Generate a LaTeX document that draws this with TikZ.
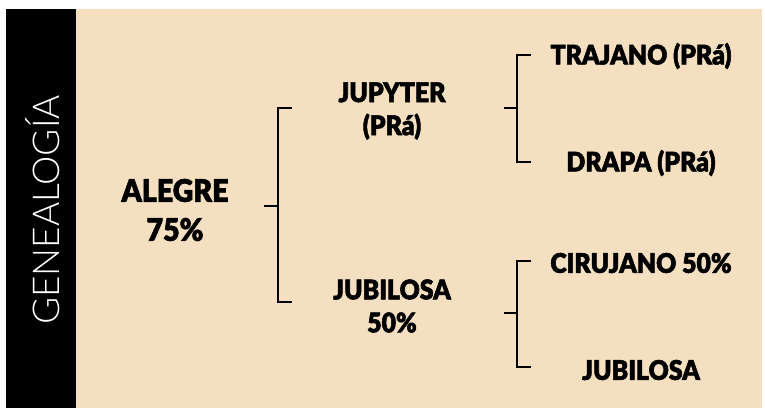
\documentclass[tikz,border=0pt]{standalone}
\usepackage{fontspec}
\setmainfont{Lato}[UprightFont=* Black, BoldFont=* Black, FakeBold=2, FakeStretch=0.92]
\newfontfamily\lightfont{Lato}[UprightFont=* Light]
\definecolor{beige}{RGB}{245,223,193}
\begin{document}
\begin{tikzpicture}[x=1pt,y=-1pt,
  lbl/.style={font=\fontsize{27}{33}\selectfont, text=black, align=center, inner sep=0pt},
  big/.style={font=\fontsize{31}{39}\selectfont, text=black, align=center, inner sep=0pt},
  brk/.style={line width=2pt, draw=black}]
\useasboundingbox (0,0) rectangle (765,408);
\fill[white] (0,0) rectangle (765,408);
\fill[black] (6,9) rectangle (76,408);
\fill[beige] (76,9) rectangle (762,408);
\node[rotate=90, text=white, inner sep=0pt, font=\lightfont\fontsize{37}{37}\selectfont] (title) at (43,210) {GENEALOGÍA};
% texts
\node[big] (alegre) at (175,210) {ALEGRE\\75\%};
\node[lbl] (jupyter) at (392,111) {JUPYTER\\(PRá)};
\node[lbl] (jubilosa1) at (392,306) {JUBILOSA\\50\%};
\node[lbl] (trajano) at (641,56) {TRAJANO (PRá)};
\node[lbl] (drapa) at (641,163) {DRAPA (PRá)};
\node[lbl] (cirujano) at (641,263) {CIRUJANO 50\%};
\node[lbl] (jubilosa2) at (641,370) {JUBILOSA};
% bracket 1
\coordinate (b1s) at (264,206);
\coordinate (b1m) at (278,206);
\coordinate (b1t) at (292,108);
\coordinate (b1b) at (292,302);
\draw[brk] (b1s) -- (b1m);
\draw[brk] (b1t) -- (b1t -| b1m) -- (b1b -| b1m) -- (b1b);
% bracket 2
\coordinate (b2s) at (504,108);
\coordinate (b2m) at (517,108);
\coordinate (b2t) at (531,55);
\coordinate (b2b) at (531,162);
\draw[brk] (b2s) -- (b2m);
\draw[brk] (b2t) -- (b2t -| b2m) -- (b2b -| b2m) -- (b2b);
% bracket 3
\coordinate (b3s) at (504,313);
\coordinate (b3m) at (517,313);
\coordinate (b3t) at (531,261);
\coordinate (b3b) at (531,367);
\draw[brk] (b3s) -- (b3m);
\draw[brk] (b3t) -- (b3t -| b3m) -- (b3b -| b3m) -- (b3b);
\end{tikzpicture}
\end{document}
